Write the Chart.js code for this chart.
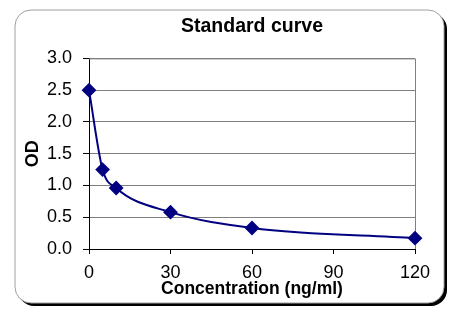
<!DOCTYPE html>
<html>
<head>
<meta charset="utf-8">
<script src="https://cdn.jsdelivr.net/npm/chart.js@4"></script>
<style>
  body { margin: 0; background: #fff; }
  canvas { display: block; }
</style>
</head>
<body>
<canvas id="myChart" width="469" height="321"></canvas>
<script>
// data
let concentrations = [0, 5, 10, 30, 60, 120];
let odValues = [2.5, 1.25, 0.96, 0.58, 0.33, 0.17];
let xTicks = [0, 30, 60, 90, 120];
let yTicks = [0, 0.5, 1, 1.5, 2, 2.5, 3];

let points = concentrations.map((c, i) => ({ x: c, y: odValues[i] }));

// rounded frame with a dark shadow, and the grey plot border on top/right
let framePlugin = {
  id: 'frame',
  beforeDraw(chart) {
    let c = chart.ctx;
    let roundRect = (x, y, w, h, r) => {
      c.beginPath();
      c.moveTo(x + r, y);
      c.arcTo(x + w, y, x + w, y + h, r);
      c.arcTo(x + w, y + h, x, y + h, r);
      c.arcTo(x, y + h, x, y, r);
      c.arcTo(x, y, x + w, y, r);
      c.closePath();
    };
    c.save();
    c.fillStyle = '#fff';
    c.fillRect(0, 0, chart.width, chart.height);
    roundRect(18, 13, 429, 293, 16);
    c.fillStyle = '#000';
    c.fill();
    roundRect(15, 10, 429, 293, 16);
    c.fillStyle = '#fff';
    c.fill();
    c.strokeStyle = '#a0a0a0';
    c.lineWidth = 1;
    c.stroke();
    c.restore();
  },
  beforeDatasetsDraw(chart) {
    let a = chart.chartArea;
    let c = chart.ctx;
    c.save();
    c.strokeStyle = '#808080';
    c.lineWidth = 1;
    c.beginPath();
    c.moveTo(a.left, a.top + 0.5);
    c.lineTo(a.right + 0.5, a.top + 0.5);
    c.lineTo(a.right + 0.5, a.bottom);
    c.stroke();
    c.restore();
  }
};

let ctx = document.getElementById('myChart').getContext('2d');
let myChart = new Chart(ctx, {
  type: 'scatter',
  data: {
    datasets: [{
      data: points,
      showLine: true,
      clip: false,
      cubicInterpolationMode: 'monotone',
      borderColor: '#000080',
      backgroundColor: '#000080',
      borderWidth: 2,
      pointStyle: 'rectRot',
      pointRadius: 6,
      pointHoverRadius: 6
    }]
  },
  options: {
    responsive: false,
    animation: false,
    devicePixelRatio: 1,
    layout: {
      padding: { top: 0, left: 10, right: 54, bottom: 21 }
    },
    plugins: {
      legend: { display: false },
      tooltip: { enabled: false },
      title: {
        display: true,
        text: 'Standard curve',
        fullSize: false,
        color: '#000',
        font: { family: 'Liberation Sans, Arial, sans-serif', size: 19.5, weight: 'bold' },
        padding: { top: 15, bottom: 20 }
      }
    },
    scales: {
      x: {
        type: 'linear',
        min: 0,
        max: 120,
        afterFit: (scale) => { scale.height = 51; },
        afterBuildTicks: (scale) => { scale.ticks = xTicks.map(v => ({ value: v })); },
        ticks: {
          color: '#000',
          padding: 8,
          font: { family: 'Liberation Sans, Arial, sans-serif', size: 18 }
        },
        grid: {
          drawOnChartArea: false,
          tickLength: 5,
          tickColor: '#000'
        },
        border: { color: '#000', width: 1 },
        title: {
          display: true,
          text: 'Concentration (ng/ml)',
          color: '#000',
          font: { family: 'Liberation Sans, Arial, sans-serif', size: 17.5, weight: 'bold' },
          padding: { top: 0, bottom: 0 }
        }
      },
      y: {
        min: 0,
        max: 3,
        afterFit: (scale) => { scale.width = 79; },
        afterBuildTicks: (scale) => { scale.ticks = yTicks.map(v => ({ value: v })); },
        ticks: {
          color: '#000',
          padding: 11,
          font: { family: 'Liberation Sans, Arial, sans-serif', size: 18 },
          callback: (value) => value.toFixed(1)
        },
        grid: {
          color: (context) => context.tick && context.tick.value === 0 ? '#000' : '#808080',
          tickColor: '#000',
          tickLength: 6
        },
        border: { color: '#000', width: 1 },
        title: {
          display: true,
          text: 'OD',
          color: '#000',
          font: { family: 'Liberation Sans, Arial, sans-serif', size: 18, weight: 'bold' },
          padding: { top: 12, bottom: 0 }
        }
      }
    }
  },
  plugins: [framePlugin]
});
</script>
</body>
</html>
